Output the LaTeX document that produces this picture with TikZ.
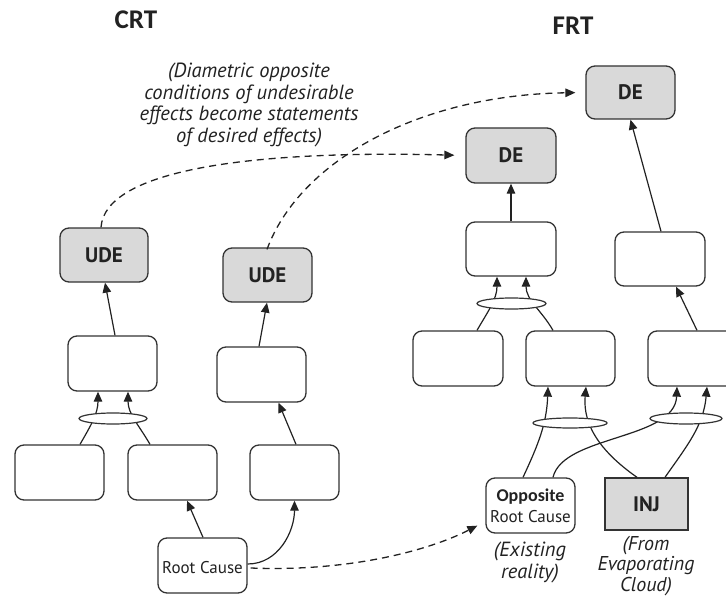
\documentclass[tikz,border=0pt]{standalone}
\usepackage{fontspec}
\setmainfont{PT Sans}
\newfontfamily\titlefont{Carlito}
\usetikzlibrary{arrows.meta,shapes.geometric}
\definecolor{ink}{HTML}{222222}
\definecolor{edge}{HTML}{333333}
\definecolor{shade}{HTML}{D9D9D9}
\begin{document}
\begin{tikzpicture}[x=1pt,y=-1pt,
  font=\fontsize{17}{20}\selectfont,
  box/.style={draw=edge,line width=1.3pt,rounded corners=9pt,minimum width=89pt,minimum height=55pt,inner sep=0pt,fill=white,text=ink},
  ent/.style={box,fill=shade,font=\fontsize{21}{24}\selectfont\bfseries},
  injbox/.style={draw=edge,line width=1.4pt,fill=shade,minimum width=83pt,minimum height=52pt,inner sep=0pt,font=\fontsize{21}{24}\selectfont\bfseries,text=ink},
  andell/.style={draw=edge,line width=1.2pt,fill=white,ellipse,inner sep=0pt},
  arr/.style={draw=ink,line width=1.2pt,-{Triangle[length=10pt,width=8.5pt]}},
  dasharr/.style={draw=ink,line width=1.3pt,dash pattern=on 7pt off 5pt,-{Triangle[length=10pt,width=8.5pt]}},
  title/.style={font=\titlefont\fontsize{27}{30}\selectfont\bfseries,text=ink},
  note/.style={font=\fontsize{20.5}{21.5}\selectfont\itshape,text=ink,align=center,inner sep=0pt}
]
\useasboundingbox (0,0) rectangle (726,599);
\clip (0,0) rectangle (726,599);

% titles
\node[title] (crt) at (136,20) {CRT};
\node[title] (frt) at (573,26) {FRT};

% annotation
\node[note] (ann) at (249,105) {(Diametric opposite\\conditions of undesirable\\effects become statements\\of desired effects)};

% ---------- current reality tree ----------
\node[ent] (udeL) at (104,255) [minimum width=88pt,minimum height=54pt] {UDE};
\node[ent] (udeR) at (267.5,275) [minimum height=54pt] {UDE};
\node[box] (cLm) at (112.5,363.5) {};
\node[box] (cLb1) at (59.5,472.5) {};
\node[box] (cLb2) at (172.5,472.5) {};
\node[box] (cRm) at (261.5,374.5) {};
\node[box] (cRb) at (294.5,472.5) {};
\node[box,align=center] (rc) at (202.5,565.5) {\\[-4pt]Root Cause};

\draw[arr] ([xshift=2.5pt]cLm.north) -- ([xshift=1pt]udeL.south);
\draw[arr] ([xshift=20.5pt]cLb1.north) to[out=60,in=-90] ([xshift=-14.5pt]cLm.south);
\draw[arr] ([xshift=-22.5pt]cLb2.north) to[out=120,in=-90] ([xshift=15.5pt]cLm.south);
\draw[arr] ([xshift=0.5pt]rc.north) -- ([xshift=14.5pt]cLb2.south);
\draw[arr] ([yshift=1.5pt]rc.east) to[out=0,in=-90] (cRb.south);
\draw[arr] ([xshift=1.5pt]cRb.north) -- ([xshift=17pt]cRm.south);
\draw[arr] ([xshift=-2.5pt]cRm.north) -- ([xshift=-0.5pt]udeR.south);
\node[andell,minimum width=68pt,minimum height=11pt] (ellL) at (113,418.5) {};

% ---------- future reality tree ----------
\node[ent] (de1) at (511,155.5) [minimum width=90pt] {DE};
\node[ent] (de2) at (630.5,92.5) [minimum height=53pt] {DE};
\node[box] (fm) at (511,249) [minimum width=90pt,minimum height=54pt] {};
\node[box] (fr) at (660,259) [minimum width=90pt,minimum height=54pt] {};
\node[box] (fb1) at (458,358.5) [minimum width=90pt] {};
\node[box] (fb2) at (570.5,358.5) {};
\node[box] (fb3) at (692.5,358.5) {};
\node[box,align=center] (orc) at (530.5,505.5) {{\titlefont\fontsize{18}{19}\selectfont\bfseries Opposite}\\[1pt]Root Cause};
\node[injbox] (inj) at (646.5,504) {INJ};

\draw[arr] (fm.north) -- (de1.south);
\draw[arr] ([xshift=19pt]fb1.north) to[out=60,in=-90] ([xshift=-14pt]fm.south);
\draw[arr] ([xshift=-17.5pt]fb2.north) to[out=120,in=-90] ([xshift=15pt]fm.south);
\draw[arr] ([xshift=1pt]fr.north) -- (de2.south);
\draw[arr] ([xshift=4.5pt]fb3.north) -- ([xshift=16pt]fr.south);
\node[andell,minimum width=69pt,minimum height=11pt] (ellU) at (511.5,303.5) {};

\draw[arr] ([xshift=-7.5pt]orc.north) to[out=65,in=-92] ([xshift=-22.5pt]fb2.south);
\draw[arr] ([xshift=-9.5pt]inj.north) to[out=145,in=-95] ([xshift=15.5pt]fb2.south);
\draw[arr] ([xshift=22.5pt]orc.north) .. controls (563,435) and (675,440) .. ([xshift=-15.5pt]fb3.south);
\draw[arr] ([xshift=18.5pt]inj.north) to[out=55,in=-95] ([xshift=14.5pt]fb3.south);
\node[andell,minimum width=74pt,minimum height=10pt] (ellB) at (570,423) {};
\node[andell,minimum width=72pt,minimum height=11pt] (ellR) at (686,418.5) {};

% captions under the roots
\node[note,font=\fontsize{20.5}{22}\selectfont\itshape] (exist) at (530,562) {(Existing\\reality)};
\node[note,font=\fontsize{20}{20.5}\selectfont\itshape] (cloud) at (646,566) {(From\\Evaporating\\Cloud)};

% ---------- correspondences between the trees ----------
\draw[dasharr,shorten >=11pt] ([xshift=-3pt]udeL.north) .. controls (105,170) and (250,150) .. (de1.west);
\draw[dasharr,shorten >=10pt] ([xshift=-0.5pt,yshift=-2pt]udeR.north) .. controls (300,160) and (420,95) .. (de2.west);
\draw[dasharr] ([xshift=3pt,yshift=-2.5pt]rc.east) .. controls (350,572) and (430,550) .. ([shift={(-8pt,8pt)}]orc.south west);
\end{tikzpicture}
\end{document}
